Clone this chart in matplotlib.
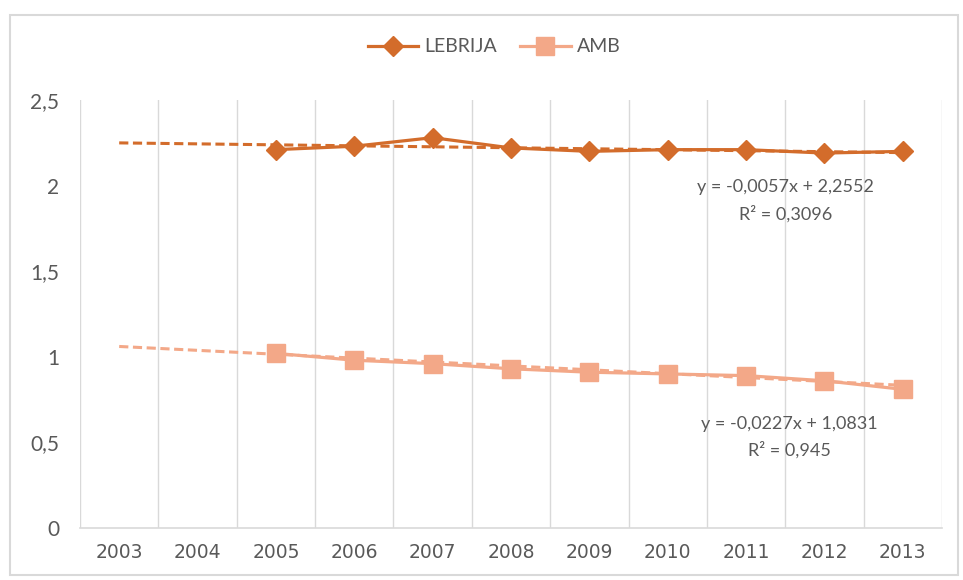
import matplotlib
matplotlib.use("Agg")
import matplotlib.pyplot as plt
import numpy as np
from matplotlib.patches import Rectangle

years = ["2003", "2004", "2005", "2006", "2007", "2008", "2009", "2010", "2011", "2012", "2013"]
lebrija = [None, None, 2.21, 2.23, 2.28, 2.22, 2.20, 2.21, 2.21, 2.19, 2.20]
amb = [None, None, 1.02, 0.98, 0.96, 0.93, 0.91, 0.90, 0.89, 0.86, 0.81]
trend_lebrija = (-0.0057, 2.2552)
trend_amb = (-0.0227, 1.0831)
eq_lebrija = ["y = -0,0057x + 2,2552", "R² = 0,3096"]
eq_amb = ["y = -0,0227x + 1,0831", "R² = 0,945"]
yticks = [0, 0.5, 1, 1.5, 2, 2.5]
ytick_labels = ["0", "0,5", "1", "1,5", "2", "2,5"]

c_leb = "#D36C2B"
c_amb = "#F3A888"
gray = "#595959"

plt.rcParams['font.family'] = ['Lato', 'DejaVu Sans']

fig = plt.figure(figsize=(9.63, 5.8), dpi=100)
fig.patch.set_facecolor("white")
fig.add_artist(Rectangle((10/963, 5/580), 948/963, 560/580, transform=fig.transFigure,
                         fill=False, edgecolor="#D9D9D9", linewidth=1.5))
ax = fig.add_axes([80/963, 1 - 528/580, 862/963, 428/580])

x = np.arange(len(years))
leb = np.array([np.nan if v is None else v for v in lebrija], dtype=float)
am = np.array([np.nan if v is None else v for v in amb], dtype=float)

# trendlines
xt = x + 1
ax.plot(x, trend_lebrija[0] * xt + trend_lebrija[1], color=c_leb, lw=2.2, ls=(0, (3, 1.5)), zorder=2)
ax.plot(x, trend_amb[0] * xt + trend_amb[1], color=c_amb, lw=2.2, ls=(0, (3, 1.5)), zorder=2)

ax.plot(x, leb, color=c_leb, lw=2.3, marker="D", markersize=10, label="LEBRIJA", zorder=3)
ax.plot(x, am, color=c_amb, lw=2.3, marker="s", markersize=13, label="AMB", zorder=3)

ax.set_xlim(-0.5, len(years) - 0.5)
ax.set_ylim(0, 2.5)
ax.set_xticks(x)
ax.set_xticklabels(years, family=['DejaVu Sans'], fontsize=13.5, color=gray)
ax.set_xticks(np.arange(-0.5, len(years)), minor=True)
ax.set_yticks(yticks)
ax.set_yticklabels(ytick_labels, fontsize=15, color=gray)
ax.tick_params(axis='both', length=0, which='both')
ax.tick_params(axis='x', pad=11)
ax.tick_params(axis='y', pad=15)
ax.grid(True, which='minor', axis='x', color="#D9D9D9", lw=1)
ax.grid(False, which='major')
for s in ["top", "right", "left"]:
    ax.spines[s].set_visible(False)
ax.spines["bottom"].set_color("#D9D9D9")
ax.spines["bottom"].set_linewidth(1.2)

ax.text(8.5, 1.99, eq_lebrija[0], ha="center", va="center", fontsize=13, color=gray)
ax.text(8.5, 1.835, eq_lebrija[1], ha="center", va="center", fontsize=13, color=gray)
ax.text(8.55, 0.607, eq_amb[0], ha="center", va="center", fontsize=13, color=gray)
ax.text(8.55, 0.455, eq_amb[1], ha="center", va="center", fontsize=13, color=gray)

fig.legend(loc="center", bbox_to_anchor=(0.513, 1 - 47/580), ncol=2, frameon=False,
           fontsize=14, labelcolor=gray, handlelength=2.6, columnspacing=1.2, handletextpad=0.3)

fig.savefig("out.png", dpi=100)
